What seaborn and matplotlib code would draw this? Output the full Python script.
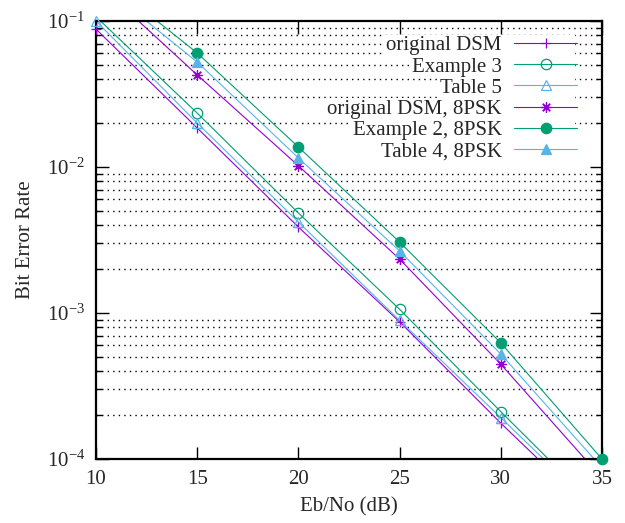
import numpy as np
import pandas as pd
import matplotlib
matplotlib.use("Agg")
import matplotlib.pyplot as plt
import matplotlib.ticker as mticker
from matplotlib.lines import Line2D
from matplotlib.patches import Rectangle
import seaborn as sns

# Eb/No points (dB)
ebno = [10, 15, 20, 25, 30, 35]

# BER (values outside 1e-4..1e-1 only guide the line ends)
orig_dsm = [0.088, 0.0185, 0.00388, 0.00087, 0.000176, 0.000038]
example3 = [0.107, 0.0234, 0.00484, 0.00106, 0.000211, 0.000043]
table5 = [0.100, 0.0200, 0.00420, 0.00089, 0.000192, 0.000041]
orig_dsm_8psk = [0.185, 0.0427, 0.0102, 0.00234, 0.000446, 0.000074]
example2_8psk = [0.215, 0.0604, 0.0137, 0.00306, 0.000624, 0.000100]
table4_8psk = [0.190, 0.0523, 0.01153, 0.00266, 0.000523, 0.000087]

labels = ["original DSM", "Example 3", "Table 5",
          "original DSM, 8PSK", "Example 2, 8PSK", "Table 4, 8PSK"]

PURPLE = "#9400D3"
GREEN = "#009E73"
BLUE = "#56B4E9"

styles = [
    (PURPLE, "+", "none"),
    (GREEN, "o", "none"),
    (BLUE, "^", "none"),
    (PURPLE, (8, 2, 0), "none"),
    (GREEN, "o", "full"),
    (BLUE, "^", "full"),
]

sns.set_theme(style="ticks")
plt.rcParams["font.family"] = ["Liberation Serif", "DejaVu Serif"]
plt.rcParams["mathtext.fontset"] = "custom"
plt.rcParams["mathtext.rm"] = "Liberation Serif"
plt.rcParams["mathtext.it"] = "Liberation Serif"
plt.rcParams["mathtext.default"] = "regular"

fig = plt.figure(figsize=(6.25, 5.23), dpi=100)
ax = fig.add_axes([96 / 625, 1 - 459 / 523, 506 / 625, 438 / 523])

series = [orig_dsm, example3, table5, orig_dsm_8psk, example2_8psk, table4_8psk]
df = pd.DataFrame({"ebno": ebno * len(series),
                   "ber": np.concatenate(series),
                   "curve": np.repeat(labels, len(ebno))})

ymin, ymax = 1e-4, 1e-1
handles = []
for lab, (col, mk, fill) in zip(labels, styles):
    sub = df[df["curve"] == lab]
    sns.lineplot(data=sub, x="ebno", y="ber", color=col, lw=0.8, ax=ax, legend=False)
    vis = sub[(sub["ber"] >= ymin * 0.999) & (sub["ber"] <= ymax * 1.001)]
    mfc = col if fill == "full" else "none"
    ax.plot(vis["ebno"], vis["ber"], ls="none", marker=mk, ms=7.5, mec=col, mfc=mfc,
            mew=0.9, clip_on=False, zorder=5)
    handles.append(Line2D([], [], color=col, lw=0.8, marker=mk, ms=7.5, mec=col,
                          mfc=mfc, mew=0.9, label=lab))

ax.set_yscale("log")
ax.set_xlim(10, 35)
ax.set_ylim(ymin, ymax)
ax.set_xticks([10, 15, 20, 25, 30, 35])
ax.yaxis.set_major_locator(mticker.LogLocator(base=10, numticks=10))
ax.yaxis.set_minor_locator(mticker.LogLocator(base=10, subs=np.arange(2, 10), numticks=20))
ax.yaxis.set_major_formatter(mticker.FuncFormatter(
    lambda v, _: r"$10^{%d}$" % int(round(np.log10(v)))))
ax.yaxis.set_minor_formatter(mticker.NullFormatter())

ax.grid(False)
ax.grid(True, which="minor", axis="y", color="black", ls=(0, (1, 3)), lw=1.0)

ax.tick_params(which="both", direction="in", top=True, right=True, labelsize=15, color="black")
ax.tick_params(which="major", length=9, width=1.0, pad=8)
ax.tick_params(which="minor", length=4.5, width=1.0)
ax.tick_params(axis="x", which="minor", top=False, bottom=False)
for s in ax.spines.values():
    s.set_linewidth(1.6)
    s.set_color("black")

ax.set_xlabel("Eb/No (dB)", fontsize=15, labelpad=6)
ax.set_ylabel("Bit Error Rate", fontsize=15, labelpad=8)

leg = ax.legend(handles=handles, loc="upper right", bbox_to_anchor=(0.975, 0.995),
                frameon=False, markerfirst=False, fontsize=15, handlelength=3.0,
                labelspacing=0.08, handletextpad=0.6, borderaxespad=0.2)
leg.set_zorder(10)

# opaque background for each key row, like gnuplot's key
fig.canvas.draw()
inv = ax.transAxes.inverted()
leg_bb = leg.get_window_extent()
texts = leg.get_texts()
centers = [(t.get_window_extent().y0 + t.get_window_extent().y1) / 2 for t in texts]
pitch = abs(centers[0] - centers[-1]) / (len(centers) - 1)
right = leg_bb.x1 - 10
for t, cy in zip(texts, centers):
    tb = t.get_window_extent()
    x0, y0 = inv.transform((tb.x0 - 3, cy - pitch / 2 - 0.5))
    x1, y1 = inv.transform((right, cy + pitch / 2 + 0.5))
    ax.add_patch(Rectangle((x0, y0), x1 - x0, y1 - y0, transform=ax.transAxes,
                           facecolor="white", edgecolor="none", zorder=8))

plt.savefig("out.png", dpi=100)
